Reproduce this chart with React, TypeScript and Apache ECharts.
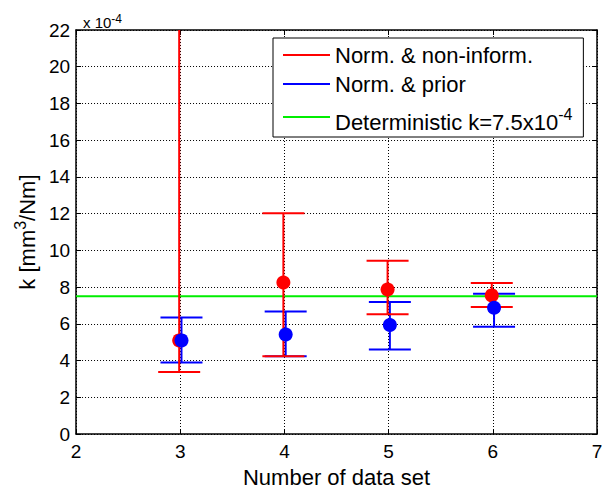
import React, { useEffect, useRef } from "react";
import * as echarts from "echarts";

// data set numbers
const dataSets = [3, 4, 5, 6];
// Norm. & non-inform. (units of 1e-4)
const redMean = [5.1, 8.25, 7.87, 7.55];
const redLow = [3.38, 4.24, 6.53, 6.92];
const redHigh = [30, 12.03, 9.44, 8.23];
// Norm. & prior
const blueMean = [5.1, 5.42, 5.94, 6.88];
const blueLow = [3.9, 4.24, 4.6, 5.85];
const blueHigh = [6.35, 6.67, 7.19, 7.64];
// deterministic value
const deterministicK = 7.5;
const xRange = [2, 7];

const RED = "#ff0000";
const BLUE = "#0000ff";
const GREEN = "#00ee00";

function errorBarRender(color: string) {
  return (params: any, api: any) => {
    const x = api.value(0);
    const lo = api.value(1);
    const hi = api.value(2);
    const cs = params.coordSys;
    const pLo = api.coord([x, lo]);
    const pHi = api.coord([x, hi]);
    const top = Math.max(pHi[1], cs.y);
    const bottom = Math.min(pLo[1], cs.y + cs.height);
    const hw = 21;
    const style = { stroke: color, lineWidth: 2 };
    const children: any[] = [
      { type: "line", shape: { x1: pLo[0], y1: bottom, x2: pLo[0], y2: top }, style },
    ];
    if (pHi[1] >= cs.y) {
      children.push({ type: "line", shape: { x1: pHi[0] - hw, y1: pHi[1], x2: pHi[0] + hw, y2: pHi[1] }, style });
    }
    if (pLo[1] <= cs.y + cs.height) {
      children.push({ type: "line", shape: { x1: pLo[0] - hw, y1: pLo[1], x2: pLo[0] + hw, y2: pLo[1] }, style });
    }
    return { type: "group", children };
  };
}

export default function App() {
  const ref = useRef<HTMLDivElement>(null);
  useEffect(() => {
    if (!ref.current) return;
    const chart = echarts.init(ref.current, undefined, { renderer: "svg" });
    const font = "'Liberation Sans', Arial, sans-serif";
    const dxRed = -0.01;
    const dxBlue = 0.012;
    const redBars = dataSets.map((d, i) => [d + dxRed, redLow[i], redHigh[i]]);
    const blueBars = dataSets.map((d, i) => [d + dxBlue, blueLow[i], blueHigh[i]]);
    const redPts = dataSets.map((d, i) => [d + dxRed, redMean[i]]);
    const bluePts = dataSets.map((d, i) => [d + dxBlue, blueMean[i]]);

    const axisCommon = {
      axisLine: { show: true, onZero: false, lineStyle: { color: "#000", width: 1.5 } },
      axisTick: { show: true, inside: true, length: 5, lineStyle: { color: "#000", width: 1 } },
    };

    chart.setOption({
      animation: false,
      backgroundColor: "#fff",
      textStyle: { fontFamily: font },
      grid: { left: 76, right: 13, top: 30, bottom: 53, containLabel: false },
      xAxis: [
        {
          type: "value",
          min: xRange[0],
          max: xRange[1],
          interval: 1,
          name: "Number of data set",
          nameLocation: "middle",
          nameGap: 31,
          nameTextStyle: { fontSize: 22, color: "#000", fontFamily: font },
          axisLabel: { fontSize: 19, color: "#000", margin: 8, fontFamily: font },
          splitLine: { show: true, lineStyle: { color: "#000", type: [1, 2], width: 1 } },
          ...axisCommon,
        },
        {
          type: "value",
          position: "top",
          min: xRange[0],
          max: xRange[1],
          interval: 1,
          axisLabel: { show: false },
          splitLine: { show: false },
          ...axisCommon,
        },
      ],
      yAxis: [
        {
          type: "value",
          min: 0,
          max: 22,
          interval: 2,
          name: "{a|k [mm}{sup|3}{a|/Nm]}",
          nameLocation: "middle",
          nameRotate: 90,
          nameGap: 30,
          nameTextStyle: {
            fontSize: 22,
            color: "#000",
            fontFamily: font,
            rich: {
              a: { fontSize: 22, lineHeight: 22, color: "#000", fontFamily: font, padding: [8, 0, 0, 0] },
              sup: { fontSize: 16, lineHeight: 16, color: "#000", fontFamily: font, verticalAlign: "top" },
            },
          },
          axisLabel: { fontSize: 19, color: "#000", margin: 6, fontFamily: font },
          splitLine: { show: true, lineStyle: { color: "#000", type: [1, 2], width: 1 } },
          ...axisCommon,
        },
        {
          type: "value",
          position: "right",
          min: 0,
          max: 22,
          interval: 2,
          axisLabel: { show: false },
          splitLine: { show: false },
          ...axisCommon,
        },
      ],
      legend: {
        orient: "vertical",
        left: 273,
        top: 38,
        padding: [5, 11, 4, 10],
        itemGap: 5,
        itemWidth: 47,
        itemHeight: 2,
        backgroundColor: "#fff",
        borderColor: "#000",
        borderWidth: 1,
        borderRadius: 0,
        selectedMode: false,
        textStyle: {
          fontSize: 22,
          lineHeight: 24,
          color: "#000",
          fontFamily: font,
          rich: {
            a: { fontSize: 22, lineHeight: 22, color: "#000", fontFamily: font, padding: [10, 0, 0, 0] },
            sup: { fontSize: 16, lineHeight: 16, color: "#000", fontFamily: font, verticalAlign: "top" },
          },
        },
        formatter: (name: string) =>
          name.startsWith("Deterministic") ? "{a|Deterministic k=7.5x10}{sup|-4}" : name,
        data: [
          { name: "Norm. & non-inform.", icon: "rect", itemStyle: { color: RED } },
          { name: "Norm. & prior", icon: "rect", itemStyle: { color: BLUE } },
          { name: "Deterministic k=7.5x10-4", icon: "rect", itemStyle: { color: GREEN } },
        ],
      },
      graphic: [
        {
          type: "text",
          left: 83,
          top: 10,
          style: {
            text: "{a|x 10}{b|-4}",
            fontFamily: font,
            rich: {
              a: { fontSize: 15, lineHeight: 15, fill: "#000", fontFamily: font, padding: [5, 0, 0, 0] },
              b: { fontSize: 12, lineHeight: 12, fill: "#000", fontFamily: font, verticalAlign: "top" },
            },
          },
        },
      ],
      series: [
        {
          name: "Deterministic k=7.5x10-4",
          type: "line",
          data: [
            [xRange[0], deterministicK],
            [xRange[1], deterministicK],
          ],
          showSymbol: false,
          symbol: "none",
          lineStyle: { color: GREEN, width: 2 },
          itemStyle: { color: GREEN },
          z: 2,
        },
        {
          name: "Norm. & prior",
          type: "custom",
          renderItem: errorBarRender(BLUE),
          data: blueBars,
          encode: { x: 0, y: [1, 2] },
          itemStyle: { color: BLUE },
          clip: true,
          z: 3,
        },
        {
          name: "Norm. & non-inform.",
          type: "custom",
          renderItem: errorBarRender(RED),
          data: redBars,
          encode: { x: 0, y: [1, 2] },
          itemStyle: { color: RED },
          clip: true,
          z: 4,
        },
        {
          name: "redPoints",
          type: "scatter",
          data: redPts,
          symbol: "circle",
          symbolSize: 14,
          itemStyle: { color: RED, opacity: 1 },
          z: 5,
        },
        {
          name: "bluePoints",
          type: "scatter",
          data: bluePts,
          symbol: "circle",
          symbolSize: 14,
          itemStyle: { color: BLUE, opacity: 1 },
          z: 6,
        },
      ],
    });
    return () => chart.dispose();
  }, []);
  return <div ref={ref} style={{ width: 610, height: 493, position: "absolute", left: 0, top: 0 }} />;
}
